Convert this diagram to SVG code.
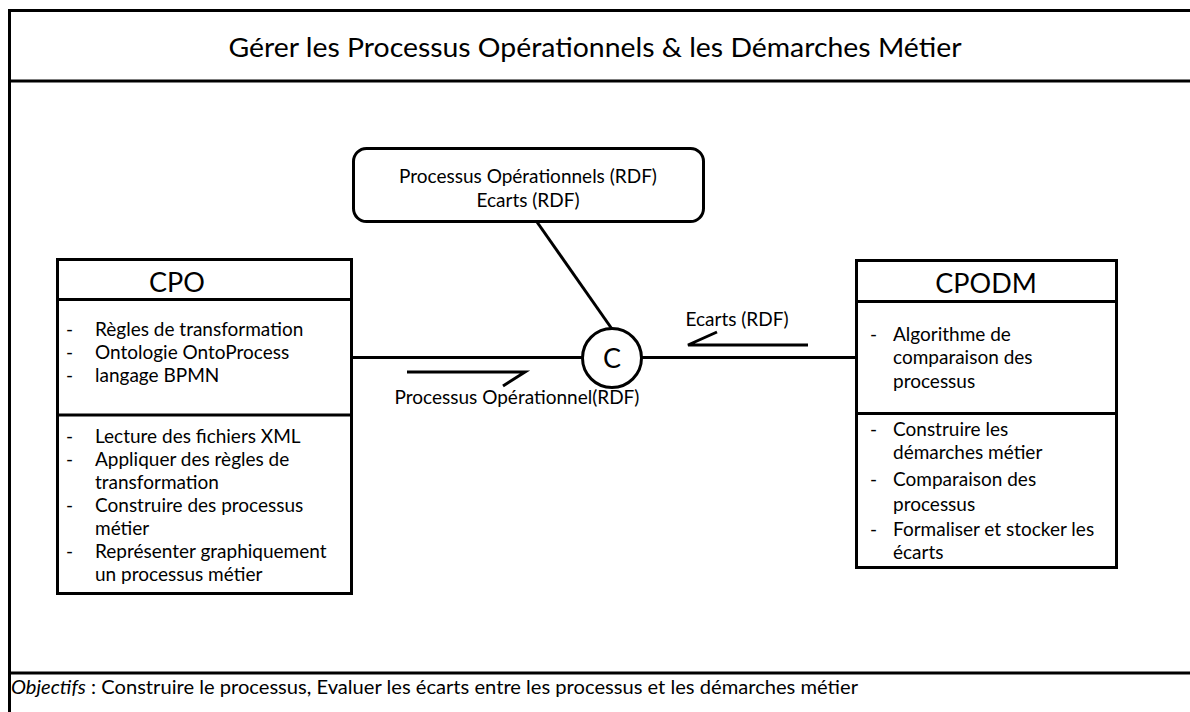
<svg xmlns="http://www.w3.org/2000/svg" width="1190" height="712" viewBox="0 0 1190 712">
<style>
.ln{stroke:#000;stroke-width:3;fill:none}
text{font-family:Lato,"Liberation Sans",sans-serif;fill:#000}
.b{font-size:19px}
.h{font-size:27px;text-anchor:middle}
.c{text-anchor:middle}
</style>
<rect width="1190" height="712" fill="#fff"/>
<g id="frame">
<path class="ln" d="M9.5,714 V10.5 H1192 M9.5,81 H1192 M9.5,673 H1192"/>
<text x="595" y="57" font-size="26.5" class="c" textLength="733" lengthAdjust="spacingAndGlyphs">Gérer les Processus Opérationnels &amp; les Démarches Métier</text>
<text x="11" y="694" font-size="19.5" textLength="847" lengthAdjust="spacingAndGlyphs"><tspan font-style="italic">Objectifs</tspan> : Construire le processus, Evaluer les écarts entre les processus et les démarches métier</text>
</g>
<g id="connectors">
<line class="ln" x1="352" y1="357.5" x2="583" y2="357.5"/>
<line class="ln" x1="642" y1="357.5" x2="856" y2="357.5"/>
<line class="ln" x1="537" y1="222" x2="612" y2="329"/>
<path class="ln" d="M407,372 H525 L503,386"/>
<text x="517" y="404" class="b c">Processus Opérationnel(RDF)</text>
<path class="ln" d="M808,345 H688 L717,332"/>
<text x="737" y="326" class="b c">Ecarts (RDF)</text>
</g>
<g id="store">
<rect class="ln" x="353.5" y="148.5" width="350" height="73" rx="13"/>
<text x="528" y="183" class="b c">Processus Opérationnels (RDF)</text>
<text x="528" y="207" class="b c">Ecarts (RDF)</text>
</g>
<g id="C">
<circle class="ln" cx="612" cy="358" r="29.5" fill="#fff"/>
<text x="612" y="368" font-size="27" class="c">C</text>
</g>
<g id="CPO">
<rect class="ln" x="57.5" y="259.5" width="294" height="334"/>
<path class="ln" d="M57.5,299.5 H351.5 M57.5,415 H351.5"/>
<text x="177" y="292" class="h">CPO</text>
<g class="b">
<text x="66" y="336">-</text><text x="95" y="336">Règles de transformation</text>
<text x="66" y="359">-</text><text x="95" y="359">Ontologie OntoProcess</text>
<text x="66" y="382">-</text><text x="95" y="382">langage BPMN</text>
<text x="66" y="443">-</text><text x="95" y="443">Lecture des fichiers XML</text>
<text x="66" y="466">-</text><text x="95" y="466">Appliquer des règles de</text>
<text x="95" y="489">transformation</text>
<text x="66" y="512">-</text><text x="95" y="512">Construire des processus</text>
<text x="95" y="535">métier</text>
<text x="66" y="558">-</text><text x="95" y="558">Représenter graphiquement</text>
<text x="95" y="581">un processus métier</text>
</g>
</g>
<g id="CPODM">
<rect class="ln" x="856.5" y="260.5" width="260" height="307"/>
<path class="ln" d="M856.5,301.5 H1116.5 M856.5,413.5 H1116.5"/>
<text x="986" y="293" class="h">CPODM</text>
<g class="b">
<text x="870" y="341">-</text><text x="893" y="341">Algorithme de</text>
<text x="893" y="364">comparaison des</text>
<text x="893" y="388">processus</text>
<text x="870" y="436">-</text><text x="893" y="436">Construire les</text>
<text x="893" y="459">démarches métier</text>
<text x="870" y="486">-</text><text x="893" y="486">Comparaison des</text>
<text x="893" y="511">processus</text>
<text x="870" y="536">-</text><text x="893" y="536">Formaliser et stocker les</text>
<text x="893" y="559">écarts</text>
</g>
</g>
</svg>
